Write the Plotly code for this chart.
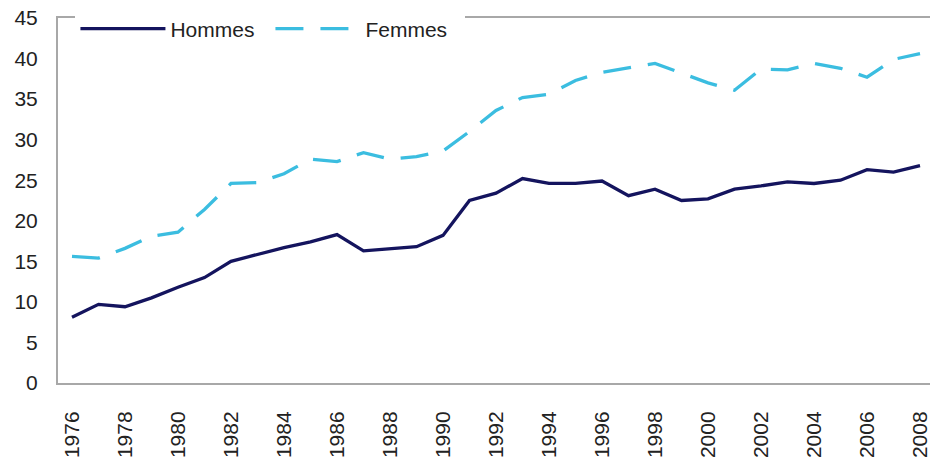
import plotly.graph_objects as go

years = list(range(1976, 2009))
hommes = [8.1, 9.7, 9.4, 10.5, 11.8, 13.0, 15.0, 15.9, 16.7, 17.4, 18.3, 16.3, 16.6, 16.8, 18.2,
          22.5, 23.4, 25.2, 24.6, 24.6, 24.9, 23.1, 23.9, 22.5, 22.7, 23.9, 24.3, 24.8, 24.6,
          25.0, 26.3, 26.0, 26.8]
femmes = [15.6, 15.4, 16.6, 18.1, 18.6, 21.4, 24.6, 24.7, 25.8, 27.6, 27.3, 28.4, 27.6, 27.9, 28.6,
          31.0, 33.6, 35.2, 35.6, 37.3, 38.3, 38.9, 39.4, 38.2, 37.0, 36.1, 38.7, 38.6, 39.4,
          38.8, 37.7, 39.9, 40.6]
tick_years = list(range(1976, 2009, 2))
y_ticks = list(range(0, 46, 5))

fig = go.Figure()
fig.add_trace(go.Scatter(x=years, y=hommes, name="Hommes", mode="lines",
                         line=dict(color="#14145e", width=3.3)))
fig.add_trace(go.Scatter(x=years, y=femmes, name="Femmes", mode="lines",
                         line=dict(color="#3bbde0", width=3.3, dash="28px,17px")))

font = dict(family="Liberation Sans, Arial, sans-serif", size=21, color="#222222")
fig.update_layout(
    width=930, height=459,
    margin=dict(l=58, r=0, t=18, b=76),
    paper_bgcolor="white", plot_bgcolor="white",
    font=font,
    showlegend=True,
    legend=dict(orientation="h", x=0.02, y=0.97, xanchor="left", yanchor="middle",
                bgcolor="white", borderwidth=0, font=font, itemwidth=85,
                tracegroupgap=0, entrywidth=95),
    xaxis=dict(range=[1975.472, 2008.377], tickmode="array", tickvals=tick_years,
               ticktext=[str(y) for y in tick_years], tickangle=-90,
               showline=True, mirror=True, linecolor="#a8a8a8", linewidth=2,
               showgrid=False, zeroline=False, ticks="", ticklabelstandoff=18,
               ticklabeloverflow="allow"),
    yaxis=dict(range=[0, 45], tickmode="array", tickvals=y_ticks,
               showline=True, mirror=False, linecolor="#a8a8a8", linewidth=2,
               showgrid=False, zeroline=False, ticks="", ticklabelstandoff=14),
)
fig.write_html("out.html")
